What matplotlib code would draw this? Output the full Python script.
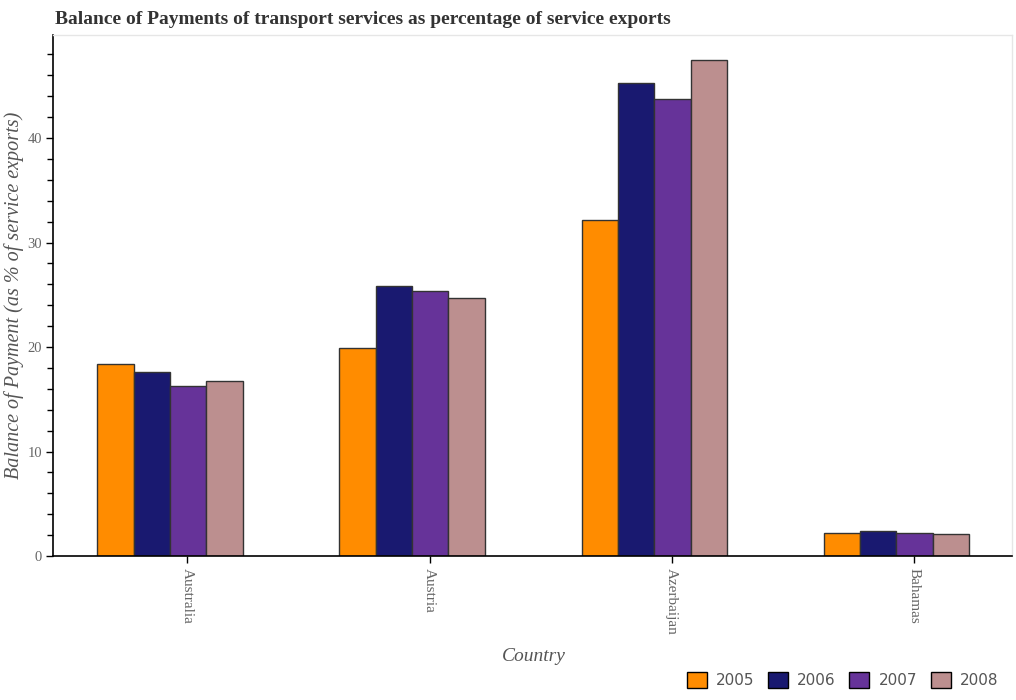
import matplotlib
matplotlib.use("Agg")
import matplotlib.pyplot as plt
from matplotlib.ticker import MultipleLocator
from matplotlib.patches import Patch
import numpy as np

countries = ["Australia", "Austria", "Azerbaijan", "Bahamas"]
years = ["2005", "2006", "2007", "2008"]
v2005 = [18.40, 19.90, 32.18, 2.19]
v2006 = [17.58, 25.80, 45.29, 2.35]
v2007 = [16.30, 25.33, 43.76, 2.20]
v2008 = [16.78, 24.69, 47.50, 2.07]
series = [v2005, v2006, v2007, v2008]
colors = ["#FF8C00", "#191970", "#663399", "#BC8F8F"]

SERIF = "Liberation Serif"

fig = plt.figure(figsize=(10.16, 7.0), dpi=100)
ax = fig.add_axes([53/1016, 144/700, (1012-53)/1016, (556-35)/700])

x = np.arange(len(countries))
w = 0.15
offset = -0.072
for j, (vals, c) in enumerate(zip(series, colors)):
    ax.bar(x + offset + (j - 1.5) * w, vals, width=w, color=c,
           edgecolor="#333333", linewidth=1.0, label=years[j], zorder=2)

ax.set_xlim(-0.555, 3.405)
ax.set_ylim(0, 49.86)
ax.yaxis.set_major_locator(MultipleLocator(10))
ax.yaxis.set_minor_locator(MultipleLocator(2))
ax.set_xticks(x)
ax.set_xticklabels(countries, rotation=270, fontfamily=SERIF,
                   fontsize=11, color="#666666")
for lab in ax.get_yticklabels():
    lab.set_fontfamily(SERIF)
    lab.set_fontsize(10.5)
    lab.set_color("#666666")
ax.tick_params(axis="both", which="major", direction="out", length=5, width=1, color="black")
ax.tick_params(axis="y", which="both", pad=3)
ax.tick_params(axis="y", which="minor", direction="out", length=4, width=1, color="black")

for s in ["left", "bottom"]:
    ax.spines[s].set_color("black")
    ax.spines[s].set_linewidth(1.2)
for s in ["top", "right"]:
    ax.spines[s].set_color("#e6e6e6")
    ax.spines[s].set_linewidth(1.0)

ax.set_ylabel("Balance of Payment (as % of service exports)", fontfamily=SERIF,
              style="italic", fontsize=14.5, color="#555555")
ax.yaxis.set_label_coords((24 - 53) / 959, 0.5)
ax.set_xlabel("Country", fontfamily=SERIF, style="italic", fontsize=14,
              color="#555555")
ax.xaxis.set_label_coords((534 - 53) / 959, (556 - 648) / 521)

fig.text(55/1016, 1 - 19/700, "Balance of Payments of transport services as percentage of service exports",
         fontfamily=SERIF, fontweight="bold", fontsize=14, color="#333333",
         va="center", ha="left")

handles = [Patch(facecolor=c, edgecolor="black", label=y) for c, y in zip(colors, years)]
fig.legend(handles=handles, loc="center right", bbox_to_anchor=(1012/1016, 1 - 680/700),
           ncol=4, frameon=False, fontsize=11, handlelength=1.3, handleheight=1.3,
           handletextpad=0.6, columnspacing=0.9, labelcolor="#555555")

fig.savefig("out.png", dpi=100)
